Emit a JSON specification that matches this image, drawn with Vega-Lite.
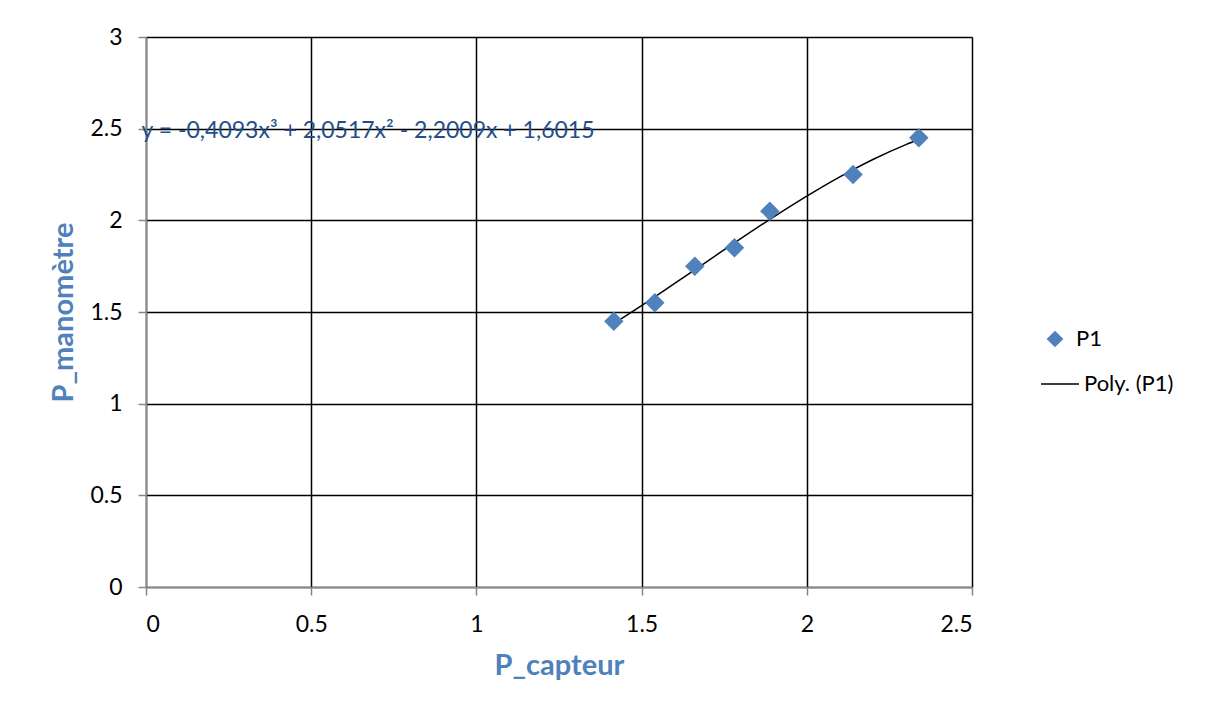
{
  "$schema": "https://vega.github.io/schema/vega-lite/v6.json",
  "width": 826,
  "height": 550,
  "autosize": {"type": "none"},
  "padding": {"left": 146, "top": 37, "right": 241, "bottom": 126},
  "background": "white",
  "config": {
    "font": "Lato",
    "view": {"stroke": null},
    "legend": {"padding": 0},
    "axis": {
      "labelFont": "Lato",
      "labelFontSize": 23,
      "labelColor": "#000000",
      "domainColor": "#868686",
      "domainWidth": 1.5,
      "tickColor": "#868686",
      "tickWidth": 1.5,
      "tickSize": 8,
      "gridColor": "#000000",
      "gridWidth": 1.5,
      "gridOpacity": 1,
      "titleFont": "Lato",
      "titleFontSize": 29,
      "titleFontWeight": "bold",
      "titleColor": "#4F81BD"
    }
  },
  "datasets": {
    "points": [
      {"x": 1.416, "y": 1.45, "series": "P1"},
      {"x": 1.54, "y": 1.55, "series": "P1"},
      {"x": 1.661, "y": 1.75, "series": "P1"},
      {"x": 1.781, "y": 1.85, "series": "P1"},
      {"x": 1.888, "y": 2.05, "series": "P1"},
      {"x": 2.14, "y": 2.25, "series": "P1"},
      {"x": 2.339, "y": 2.45, "series": "P1"}
    ],
    "curve": [
      {"x": 1.416, "y": 1.437, "series": "Poly. (P1)"},
      {"x": 1.5, "y": 1.535, "series": "Poly. (P1)"},
      {"x": 1.6, "y": 1.656, "series": "Poly. (P1)"},
      {"x": 1.7, "y": 1.778, "series": "Poly. (P1)"},
      {"x": 1.8, "y": 1.9, "series": "Poly. (P1)"},
      {"x": 1.9, "y": 2.019, "series": "Poly. (P1)"},
      {"x": 2.0, "y": 2.132, "series": "Poly. (P1)"},
      {"x": 2.1, "y": 2.237, "series": "Poly. (P1)"},
      {"x": 2.2, "y": 2.332, "series": "Poly. (P1)"},
      {"x": 2.3, "y": 2.413, "series": "Poly. (P1)"},
      {"x": 2.339, "y": 2.441, "series": "Poly. (P1)"}
    ],
    "label": [
      {"x": 0.672, "y": 2.49, "text": "y = -0,4093x³ + 2,0517x² - 2,2009x + 1,6015"}
    ]
  },
  "encoding": {
    "x": {
      "field": "x", "type": "quantitative",
      "scale": {"domain": [0, 2.5], "nice": false, "zero": false},
      "axis": {
        "values": [0, 0.5, 1, 1.5, 2, 2.5],
        "format": ".1~f",
        "title": "P_capteur",
        "labelPadding": 18,
        "titleY": 78,
        "titleBaseline": "middle"
      }
    },
    "y": {
      "field": "y", "type": "quantitative",
      "scale": {"domain": [0, 3], "nice": false, "zero": false},
      "axis": {
        "values": [0, 0.5, 1, 1.5, 2, 2.5, 3],
        "format": ".1~f",
        "title": "P_manomètre",
        "labelPadding": 16,
        "titleX": -83,
        "titleY": 275,
        "titleAngle": -90,
        "titleAlign": "center",
        "titleBaseline": "middle"
      }
    }
  },
  "layer": [
    {
      "data": {"name": "curve"},
      "mark": {"type": "line", "strokeWidth": 1.5, "interpolate": "monotone"},
      "encoding": {
        "color": {
          "field": "series", "type": "nominal",
          "scale": {"domain": ["Poly. (P1)"], "range": ["#000000"]},
          "legend": {
            "title": null,
            "orient": "none",
            "legendX": 894,
            "legendY": 327,
            "labelFont": "Lato",
            "labelFontSize": 22,
            "labelColor": "#000000",
            "symbolType": "stroke",
            "symbolSize": 1444,
            "symbolStrokeWidth": 1.5,
            "symbolStrokeColor": "#000000",
            "labelOffset": 4
          }
        }
      }
    },
    {
      "data": {"name": "points"},
      "mark": {"type": "point", "shape": "diamond", "filled": true, "size": 380, "opacity": 1},
      "encoding": {
        "color": {
          "field": "series", "type": "nominal",
          "scale": {"domain": ["P1"], "range": ["#4F81BD"]},
          "legend": {
            "title": null,
            "orient": "none",
            "legendX": 898,
            "legendY": 291,
            "labelFont": "Lato",
            "labelFontSize": 22,
            "labelColor": "#000000",
            "symbolType": "diamond",
            "symbolSize": 280,
            "symbolOpacity": 1,
            "labelOffset": 10
          }
        }
      }
    },
    {
      "data": {"name": "label"},
      "mark": {"type": "text", "font": "Lato", "fontSize": 23, "color": "#1F4E89", "align": "center", "baseline": "middle"},
      "encoding": {
        "text": {"field": "text"}
      }
    }
  ],
  "resolve": {"scale": {"color": "independent"}, "legend": {"color": "independent"}}
}
